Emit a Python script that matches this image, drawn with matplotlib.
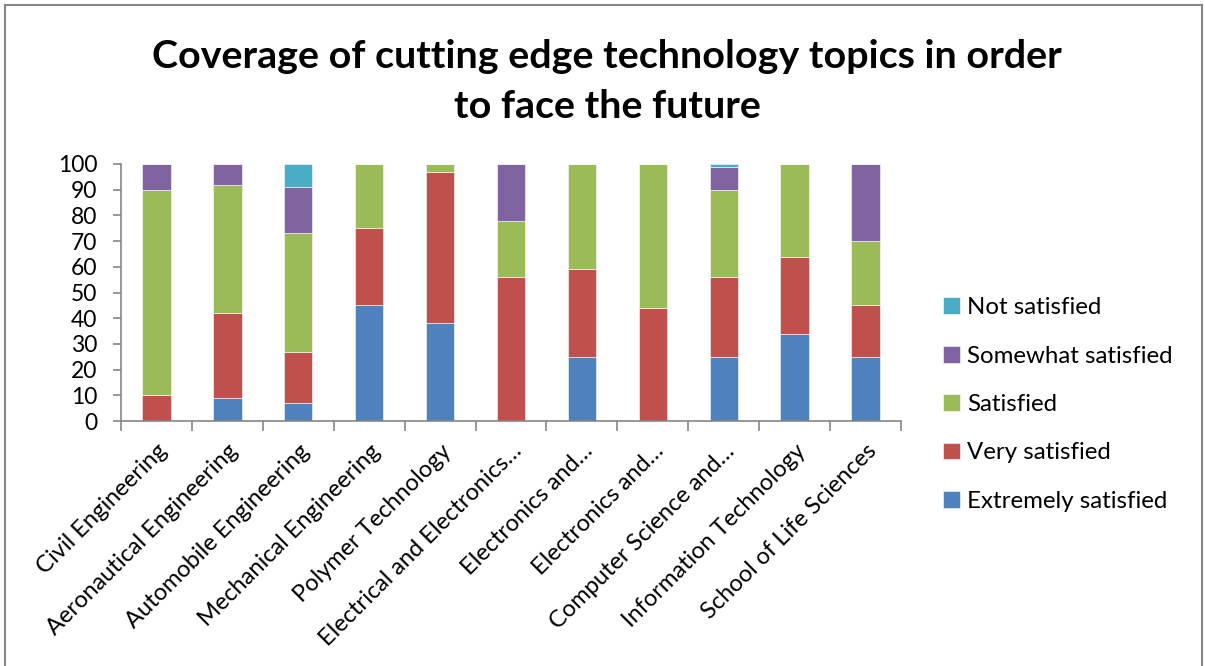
import matplotlib
matplotlib.use("Agg")
import matplotlib.pyplot as plt
from matplotlib.lines import Line2D
import numpy as np

plt.rcParams['font.family'] = ['Lato', 'DejaVu Sans']

categories = ["Civil Engineering", "Aeronautical Engineering", "Automobile Engineering",
              "Mechanical Engineering", "Polymer Technology", "Electrical and Electronics\u2026",
              "Electronics and\u2026", "Electronics and\u2026", "Computer Science and\u2026",
              "Information Technology", "School of Life Sciences"]
extremely = [0, 9, 7, 45, 38, 0, 25, 0, 25, 34, 25]
very = [10, 33, 20, 30, 59, 56, 34, 44, 31, 30, 20]
satisfied = [80, 50, 46, 25, 3, 22, 41, 56, 34, 36, 25]
somewhat = [10, 8, 18, 0, 0, 22, 0, 0, 9, 0, 30]
not_sat = [0, 0, 9, 0, 0, 0, 0, 0, 1, 0, 0]

series_names = ["Extremely satisfied", "Very satisfied", "Satisfied", "Somewhat satisfied", "Not satisfied"]
series = [extremely, very, satisfied, somewhat, not_sat]
colors = ["#4F81BD", "#C0504D", "#9BBB59", "#8064A2", "#4BACC6"]

W, H = 1205, 666
fig = plt.figure(figsize=(W / 100, H / 100), dpi=100)
ax = fig.add_axes([121 / W, 1 - 421 / H, (901 - 121) / W, (421 - 164) / H])

x = np.arange(len(categories))
bottom = np.zeros(len(categories))
handles = []
for name, vals, c in zip(series_names, series, colors):
    v = np.array(vals, dtype=float)
    b = ax.bar(x, v, 0.4, bottom=bottom, color=c, edgecolor='white', linewidth=0.4, label=name, zorder=2)
    bottom += v
    handles.append(b)

ax.set_xlim(-0.5, len(categories) - 0.5)
ax.set_ylim(0, 100)
ax.set_yticks(np.arange(0, 101, 10))
ax.tick_params(axis='y', labelsize=16.5, length=6, color='#868686', width=1.2, pad=11)
ax.set_xticks(x)
ax.set_xticklabels(categories, rotation=45, ha='right', rotation_mode='anchor', fontsize=17)
ax.tick_params(axis='x', length=0, pad=14)
ax.set_xticks(np.arange(-0.5, len(categories), 1.0), minor=True)
ax.tick_params(axis='x', which='minor', length=7, color='#868686', width=1.2)
for s in ['top', 'right']:
    ax.spines[s].set_visible(False)
for s in ['left', 'bottom']:
    ax.spines[s].set_color('#868686')
    ax.spines[s].set_linewidth(1.2)

fig.text(607 / W, 1 - 57 / H, "Coverage of cutting edge technology topics in order",
         ha='center', va='center', fontsize=28.4, fontweight='bold')
fig.text(607 / W, 1 - 106 / H, "to face the future",
         ha='center', va='center', fontsize=28.4, fontweight='bold')

leg = fig.legend(handles[::-1], series_names[::-1], loc='center left',
                 bbox_to_anchor=(943 / W, 1 - 404.5 / H), frameon=False, fontsize=17.3,
                 handlelength=0.7, handleheight=0.7, handletextpad=0.3, labelspacing=1.14,
                 borderaxespad=0, borderpad=0)

fig.add_artist(Line2D([5 / W, 5 / W], [0, 1 - 5 / H], color='#868686', lw=1.5))
fig.add_artist(Line2D([5 / W, 1202 / W], [1 - 5 / H, 1 - 5 / H], color='#868686', lw=1.5))
fig.add_artist(Line2D([1202 / W, 1202 / W], [0, 1 - 5 / H], color='#868686', lw=1.5))

fig.savefig("out.png", dpi=100, facecolor='white')
